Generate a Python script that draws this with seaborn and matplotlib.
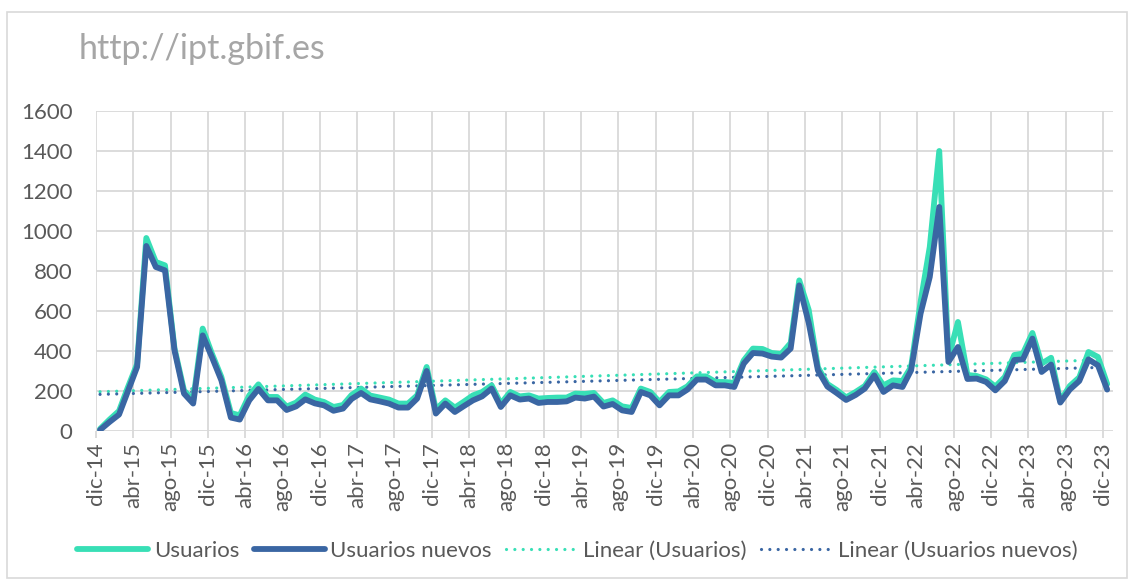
import matplotlib
matplotlib.use("Agg")
import matplotlib.pyplot as plt
import matplotlib.patches as mpatches
from matplotlib.lines import Line2D
import seaborn as sns
import pandas as pd
import numpy as np

# Valores mensuales (dic-14 .. dic-23)
usuarios = [10, 57, 100, 215, 335, 965, 845, 828, 413, 203, 153, 512, 387, 270, 90, 78,
            178, 233, 170, 170, 122, 142, 182, 157, 145, 120, 130, 180, 212, 177, 167, 157,
            137, 137, 178, 320, 107, 153, 117, 145, 178, 195, 228, 137, 195, 173, 178, 162,
            165, 167, 167, 187, 185, 190, 140, 153, 123, 115, 212, 195, 145, 195, 198, 223,
            273, 273, 245, 245, 240, 353, 412, 410, 390, 385, 440, 753, 605, 318, 235, 205,
            168, 195, 225, 295, 228, 253, 250, 320, 645, 920, 1400, 365, 545, 280, 275, 258,
            222, 270, 380, 387, 490, 337, 366, 150, 225, 268, 395, 370, 235]
usuarios_nuevos = [5, 45, 82, 195, 320, 925, 820, 803, 403, 187, 137, 478, 370, 253, 67, 57,
                   153, 210, 153, 153, 105, 123, 158, 138, 128, 101, 112, 160, 190, 158, 148, 137,
                   117, 117, 162, 300, 87, 137, 95, 123, 153, 173, 212, 120, 178, 157, 162, 140,
                   145, 145, 148, 167, 162, 172, 122, 135, 103, 95, 195, 178, 128, 178, 178, 207,
                   257, 257, 228, 228, 220, 337, 390, 387, 372, 367, 412, 728, 540, 303, 222, 190,
                   155, 180, 212, 278, 195, 228, 220, 303, 587, 770, 1120, 345, 420, 260, 262, 245,
                   203, 250, 355, 358, 462, 295, 332, 142, 207, 250, 358, 328, 207]
etiquetas = ["dic-14", "abr-15", "ago-15", "dic-15", "abr-16", "ago-16", "dic-16", "abr-17",
             "ago-17", "dic-17", "abr-18", "ago-18", "dic-18", "abr-19", "ago-19", "dic-19",
             "abr-20", "ago-20", "dic-20", "abr-21", "ago-21", "dic-21", "abr-22", "ago-22",
             "dic-22", "abr-23", "ago-23", "dic-23"]
series = ["Usuarios", "Usuarios nuevos"]

verde = "#38DFB6"
azul = "#3A66A3"
gris_texto = "#595959"
gris_rejilla = "#D9D9D9"

fechas = pd.date_range("2014-12-01", periods=len(usuarios), freq="MS") + pd.Timedelta(days=13)
df = pd.DataFrame({"fecha": list(fechas) * 2,
                   "valor": usuarios + usuarios_nuevos,
                   "serie": [series[0]] * len(usuarios) + [series[1]] * len(usuarios_nuevos)})

sns.set_theme(style="white")
plt.rcParams["font.family"] = ["Lato", "DejaVu Sans"]

fig = plt.figure(figsize=(11.34, 5.82), dpi=100)
ax = fig.add_axes([0.0847, 0.2595, 0.8965, 0.5498])

# rejilla tipo Excel
ax.grid(True, color=gris_rejilla, linewidth=1.3)
ax.set_axisbelow(True)
for s in ax.spines.values():
    s.set_visible(False)

sns.lineplot(data=df, x="fecha", y="valor", hue="serie", palette=[verde, azul],
             linewidth=4.2, ax=ax, legend=False, solid_capstyle="round", solid_joinstyle="round")

# lineas de tendencia lineal
idx = np.arange(len(usuarios))
for vals, col in [(usuarios, verde), (usuarios_nuevos, azul)]:
    m, b = np.polyfit(idx, vals, 1)
    ax.plot(fechas, m * idx + b, color=col, linewidth=2.3, linestyle=(0, (0.01, 2.6)),
            dash_capstyle="round", zorder=1.5)

ax.set_ylim(0, 1600)
ax.set_yticks(range(0, 1601, 200))
ax.set_xlim(pd.Timestamp("2014-12-01"), pd.Timestamp("2024-01-01"))
ax.set_xticks(pd.date_range("2014-12-01", "2023-12-01", freq="4MS"))
ax.set_xticklabels(etiquetas, rotation=90)
ax.tick_params(axis="x", length=5, width=1.3, color=gris_rejilla, bottom=True, pad=3,
               labelsize=16, labelcolor=gris_texto)
ax.tick_params(axis="y", length=0, pad=17, labelsize=16, labelcolor=gris_texto)
ax.set_xlabel("")
ax.set_ylabel("")

fig.text(0.069, 0.915, "http://ipt.gbif.es", fontsize=24.5, color="#A6A6A6", va="center")

handles = [Line2D([], [], color=verde, linewidth=4.2, solid_capstyle="round"),
           Line2D([], [], color=azul, linewidth=4.2, solid_capstyle="round"),
           Line2D([], [], color=verde, linewidth=2.3, linestyle=(0, (0.01, 2.6)), dash_capstyle="round"),
           Line2D([], [], color=azul, linewidth=2.3, linestyle=(0, (0.01, 2.6)), dash_capstyle="round")]
labels = ["Usuarios", "Usuarios nuevos", "Linear (Usuarios)", "Linear (Usuarios nuevos)"]
leg = fig.legend(handles, labels, loc="center", bbox_to_anchor=(0.509, 0.053), ncol=4,
                 frameon=False, fontsize=16, handlelength=3.2, handletextpad=0.25,
                 columnspacing=0.65)
for t in leg.get_texts():
    t.set_color(gris_texto)

# marco del grafico
fig.patches.append(mpatches.Rectangle((0.006, 0.007), 0.988, 0.972, transform=fig.transFigure,
                                      fill=False, edgecolor=gris_rejilla, linewidth=1.2))

fig.savefig("out.png", dpi=100)
